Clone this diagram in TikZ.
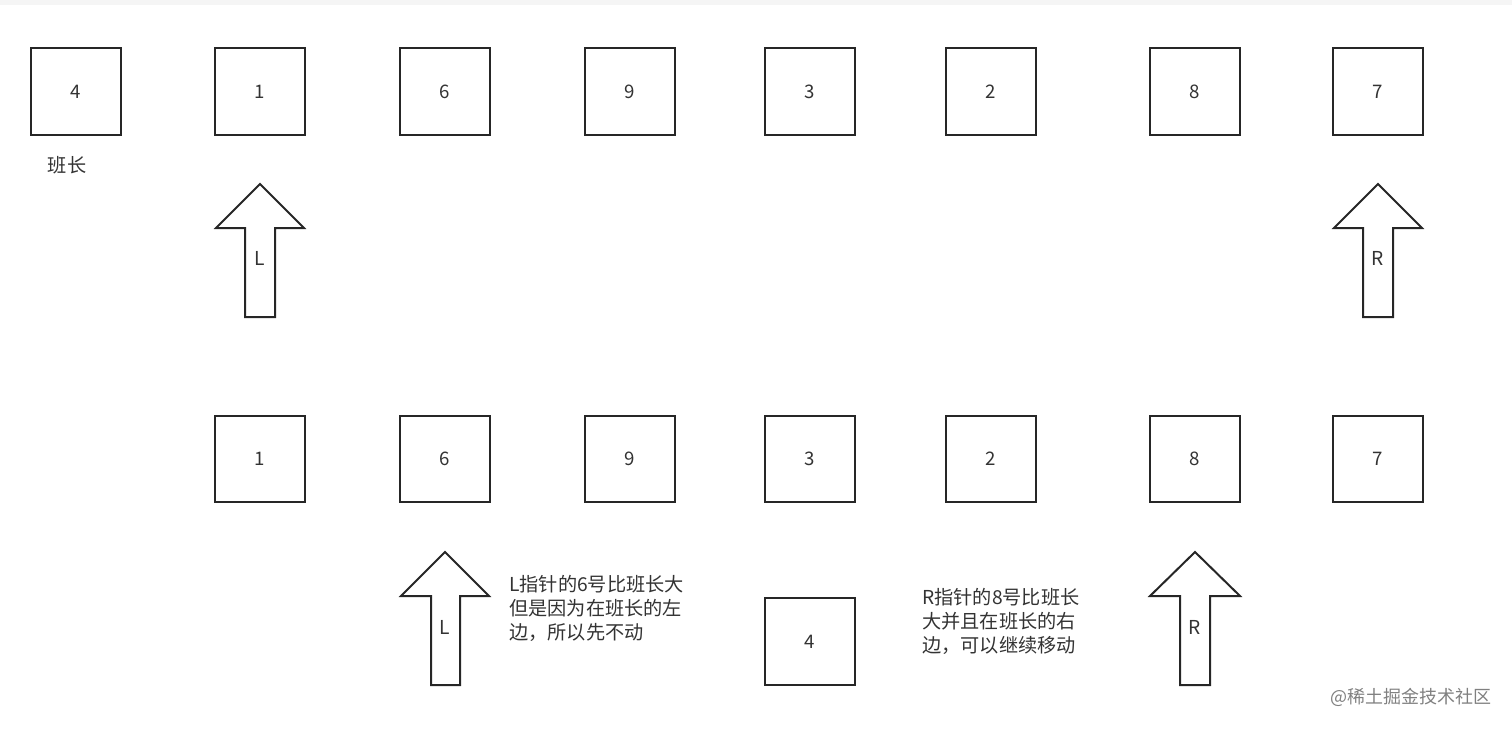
\documentclass[tikz,border=0pt]{standalone}
\usepackage{fontspec}
\setmainfont{Noto Sans CJK SC}
\tikzset{
	box/.style={draw=black!85, line width=1.5pt, minimum width=67.5pt, minimum height=65pt, inner sep=0pt, text=black!80, font=\fontsize{14}{18}\selectfont},
	ptr/.style={draw=black!85, line width=1.5pt, line join=miter},
	note/.style={anchor=north west, inner sep=0pt, align=left, text=black!80, font=\fontsize{14.4}{18}\selectfont}
}
\begin{document}
\begin{tikzpicture}[x=0.75pt,y=0.75pt,yscale=-1,xscale=1]
	\useasboundingbox (0,0) rectangle (1512,729);
	\fill[black!4] (0,0) rectangle (1512,5);
	
	% Top row
	\node [box] (t4) at (75.5,91.5) {4};
	\node [box] (t1) at (260,91.5) {1};
	\node [box] (t6) at (445,91.5) {6};
	\node [box] (t9) at (630,91.5) {9};
	\node [box] (t3) at (810,91.5) {3};
	\node [box] (t2) at (991,91.5) {2};
	\node [box] (t8) at (1194.5,91.5) {8};
	\node [box] (t7) at (1378,91.5) {7};
	% Text Node
	\node [note, anchor=center] (head) at (67,165) {班长};
	
	% Up Arrow L (top)
	\draw [ptr] (260,184) -- (304,228) -- (275,228) -- (275,317) -- (245,317) -- (245,228) -- (216,228) -- cycle;
	\node [note, anchor=center] (tl) at (260,258) {L};
	% Up Arrow R (top)
	\draw [ptr] (1378,184) -- (1422,228) -- (1393,228) -- (1393,317) -- (1363,317) -- (1363,228) -- (1334,228) -- cycle;
	\node [note, anchor=center] (tr) at (1378,258) {R};
	
	% Bottom row
	\node [box] (b1) at (260,459) {1};
	\node [box] (b6) at (445,459) {6};
	\node [box] (b9) at (630,459) {9};
	\node [box] (b3) at (810,459) {3};
	\node [box] (b2) at (991,459) {2};
	\node [box] (b8) at (1194.5,459) {8};
	\node [box] (b7) at (1378,459) {7};
	\node [box] (b4) at (810,641.5) {4};
	
	% Up Arrow L (bottom)
	\draw [ptr] (445,552) -- (489,596) -- (460,596) -- (460,685) -- (431,685) -- (431,596) -- (401,596) -- cycle;
	\node [note, anchor=center] (bl) at (445,627) {L};
	% Up Arrow R (bottom)
	\draw [ptr] (1195,552) -- (1240,596) -- (1210,596) -- (1210,685) -- (1180,685) -- (1180,596) -- (1150,596) -- cycle;
	\node [note, anchor=center] (br) at (1195,627) {R};
	
	% Text Node
	\node [note] (lnote) at (509,575) {L指针的6号比班长大\\但是因为在班长的左\\边，所以先不动};
	% Text Node
	\node [note] (rnote) at (922,588) {R指针的8号比班长\\大并且在班长的右\\边，可以继续移动};
	% Text Node
	\node [note, anchor=east, text=black!50, font=\fontsize{13.5}{18}\selectfont] (mark) at (1492,697) {@稀土掘金技术社区};
\end{tikzpicture}
\end{document}
